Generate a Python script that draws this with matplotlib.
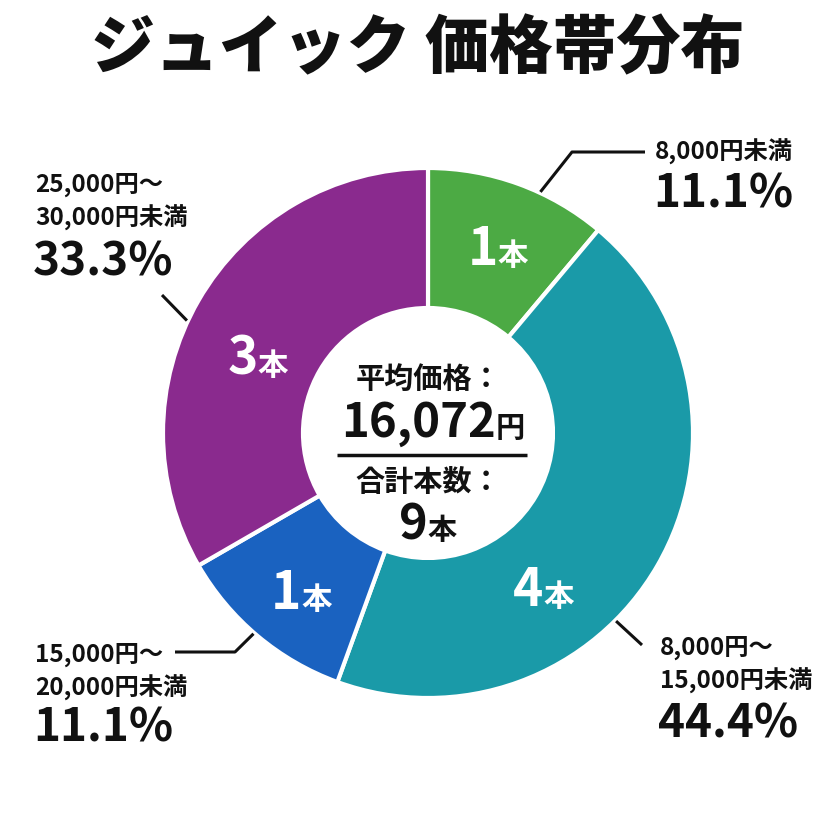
import matplotlib
matplotlib.use("Agg")
import matplotlib.pyplot as plt
import numpy as np

plt.rcParams['font.family'] = ['Noto Sans CJK JP', 'DejaVu Sans']

title = "ジュイック 価格帯分布"
categories = ["8,000円未満", "8,000円～\n15,000円未満", "15,000円～\n20,000円未満", "25,000円～\n30,000円未満"]
counts = [1, 4, 1, 3]
percents = ["11.1%", "44.4%", "11.1%", "33.3%"]
colors = ["#4caa44", "#1a9aa8", "#1a62c0", "#8a2a8e"]
avg_price = "16,072"
total = "9"

W = H = 836
fig = plt.figure(figsize=(8.36, 8.36), dpi=100)
ax = fig.add_axes([0, 0, 1, 1])
ax.set_xlim(0, W)
ax.set_ylim(0, H)
ax.set_aspect('equal')
ax.axis('off')

def Y(y):
    return H - y

cx, cy = 428, Y(433)
R = 265
r_in = 125
ax.pie(counts, colors=colors, startangle=90, counterclock=False,
       radius=R, center=(cx, cy),
       wedgeprops=dict(width=R - r_in, edgecolor='white', linewidth=3))
ax.set_xlim(0, W)
ax.set_ylim(0, H)

fig.canvas.draw()
renderer = fig.canvas.get_renderer()

def two_part(x, y, big, small, bsize, ssize, color, weight='bold'):
    t1 = ax.text(0, y, big, fontsize=bsize, color=color, fontweight=weight,
                 ha='left', va='baseline')
    t2 = ax.text(0, y, small, fontsize=ssize, color=color, fontweight=weight,
                 ha='left', va='baseline')
    w1 = t1.get_window_extent(renderer).width
    w2 = t2.get_window_extent(renderer).width
    tot = w1 + w2
    t1.set_x(x - tot / 2)
    t2.set_x(x - tot / 2 + w1)

# wedge count labels (angle in degrees, radius)
label_pos = [(69, 195), (-54, 197), (-128, 206), (157, 185)]
for n, (ang, rr) in zip(counts, label_pos):
    a = np.deg2rad(ang)
    x = cx + rr * np.cos(a)
    y = cy + rr * np.sin(a) - 14
    two_part(x, y, str(n), "本", 37, 22, 'white')

# title
ax.text(418, Y(50), title, fontsize=46, fontweight='heavy', ha='center', va='center', color='#111111')

# center texts
ax.text(cx, Y(379), "平均価格：", fontsize=21, fontweight='bold', ha='center', va='center', color='#111111')
two_part(cx + 5, Y(437), avg_price, "円", 34, 21, '#111111')
ax.plot([337, 527], [Y(455), Y(455)], color='#111111', lw=2.5, solid_capstyle='butt')
ax.text(cx, Y(482), "合計本数：", fontsize=21, fontweight='bold', ha='center', va='center', color='#111111')
two_part(cx, Y(539), total, "本", 35, 21, '#111111')

# outer labels
lab_xy = [(655, 152), (660, 648), (35, 655), (35, 185)]
pct_y = [195, 725, 728, 262]
for cat, pct, (lx, ly), py in zip(categories, percents, lab_xy, pct_y):
    lines = cat.split("\n")
    for i, ln in enumerate(lines):
        ax.text(lx, Y(ly + i * 33), ln, fontsize=17.5, fontweight='bold', ha='left', va='center', color='#111111')
    ax.text(lx - 2, Y(py), pct, fontsize=33, fontweight='bold', ha='left', va='center', color='#111111')

# leader lines: start angle on ring, then path points
leaders = [
    (65, [(572, 152), (645, 152)]),
    (-45, [(642, 645)]),
    (-131, [(235, 652), (175, 652)]),
    (155, [(162, 295)]),
]
for ang, pts in leaders:
    a = np.deg2rad(ang)
    xs = [cx + (R + 1) * np.cos(a)] + [p[0] for p in pts]
    ys = [cy + (R + 1) * np.sin(a)] + [Y(p[1]) for p in pts]
    ax.plot(xs, ys, color='#111111', lw=2.2, solid_capstyle='butt')

fig.savefig("out.png", dpi=100, facecolor='white')
